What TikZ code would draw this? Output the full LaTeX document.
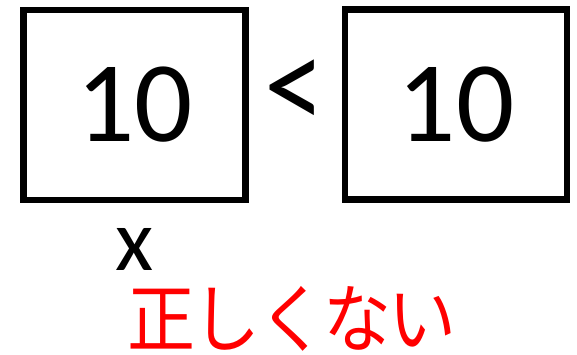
\documentclass[tikz,border=0pt]{standalone}
\usepackage{fontspec}
\setmainfont{Carlito}
\newfontfamily\jpfont{Noto Sans CJK JP}
\begin{document}
\begin{tikzpicture}[x=1pt,y=-1pt,
  numbox/.style={draw=black,line width=6.5pt,minimum width=222pt,minimum height=190pt,inner sep=0pt,font=\fontsize{115}{120}\selectfont},
  lbl/.style={inner sep=0pt}]
\useasboundingbox (0,0) rectangle (577,355);
\node[numbox] (a) at (134.5,105) {10};
\node[numbox] (b) at (456,104.5) {10};
\node[lbl,font=\fontsize{135}{140}\selectfont,xscale=0.9] (lt) at (295,95) {<};
\node[lbl,font=\fontsize{88}{90}\selectfont,anchor=base] (x) at (134.5,270) {x};
\node[lbl,font=\jpfont\fontsize{68}{70}\selectfont,text=red,anchor=base,yscale=1.1] (t) at (292,346) {\addfontfeatures{LetterSpace=-4}正しくない};
\end{tikzpicture}
\end{document}
